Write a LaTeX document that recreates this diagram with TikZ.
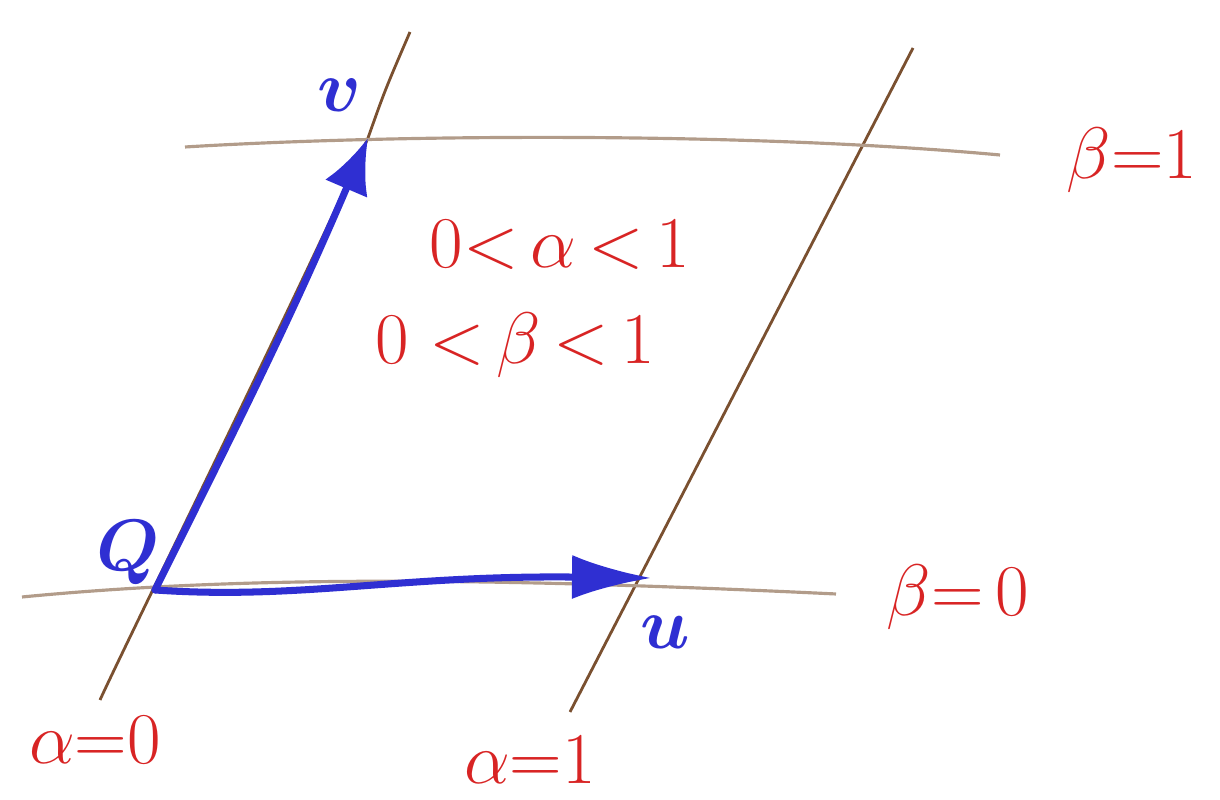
\documentclass[tikz,border=0pt]{standalone}
\usepackage{amsmath, amssymb}
\usepackage{tikz}
\usetikzlibrary{arrows.meta, calc, positioning}
\tikzset{>={Latex[round]}}
\definecolor{penblue}{HTML}{2F2FD2}
\definecolor{penred}{HTML}{D82424}
\definecolor{alphaline}{HTML}{7A5030}
\definecolor{betaline}{HTML}{B29C8A}

\begin{document}
\begin{tikzpicture}[
    alphagrid/.style={alphaline, line width=0.8pt},
    betagrid/.style={betaline, line width=0.9pt},
    vec/.style={->, penblue, line width=2pt, line cap=round},
    veclabel/.style={penblue, font=\huge\boldmath},
    redlabel/.style={penred, font=\huge}
]
\useasboundingbox (0,0) rectangle (12.2,8);

% Points
\coordinate (Q) at (1.55,2.10);
\coordinate (V) at (3.68,6.62);
\coordinate (U) at (6.52,2.22);

% Grid lines alpha = 0, alpha = 1
\coordinate (a0s) at (1.00,1.00);
\coordinate (a0e) at (4.10,7.68);
\coordinate (a1s) at (5.70,0.88);
\coordinate (a1e) at (9.13,7.52);
\draw[alphagrid] (a0s) .. controls (1.25,1.55) and (3.10,5.30) .. (V) .. controls (3.85,7.10) .. (a0e);
\draw[alphagrid] (a1s) -- (a1e);

% Grid lines beta = 0, beta = 1
\coordinate (b0s) at (0.22,2.03);
\coordinate (b0e) at (8.36,2.06);
\coordinate (b1s) at (1.85,6.53);
\coordinate (b1e) at (10.00,6.45);
\draw[betagrid] (b0s) .. controls (2.50,2.25) and (5.00,2.22) .. (b0e);
\draw[betagrid] (b1s) .. controls (4.00,6.66) and (7.50,6.68) .. (b1e);

% Vectors
\draw[vec, >={Latex[length=5.5mm, width=4.6mm]}] (Q) .. controls (2.40,3.80) and (2.90,4.80) .. (V);
\draw[vec, >={Latex[length=8mm, width=4.4mm]}] (Q) .. controls (3.00,2.00) and (4.00,2.25) .. (U);

% Vector labels
\node[veclabel] (vlab) at (3.40,7.05) {$v$};
\node[veclabel] (qlab) at (1.28,2.47) {$Q$};
\node[veclabel] (ulab) at (6.65,1.68) {$u$};

% Red labels
\node[redlabel] (b1lab) at (11.32,6.40) {$\beta{=}1$};
\node[redlabel] (alab) at (5.60,5.55) {$0{<}\,\alpha\,{<}\,1$};
\node[redlabel] (blab) at (5.15,4.55) {$0\;{<}\,\beta\,{<}\,1$};
\node[redlabel] (b0lab) at (9.58,2.03) {$\beta{=}\,0$};
\node[redlabel] (a0lab) at (0.95,0.60) {$\alpha{=}0$};
\node[redlabel] (a1lab) at (5.30,0.40) {$\alpha{=}1$};

\end{tikzpicture}
\end{document}
